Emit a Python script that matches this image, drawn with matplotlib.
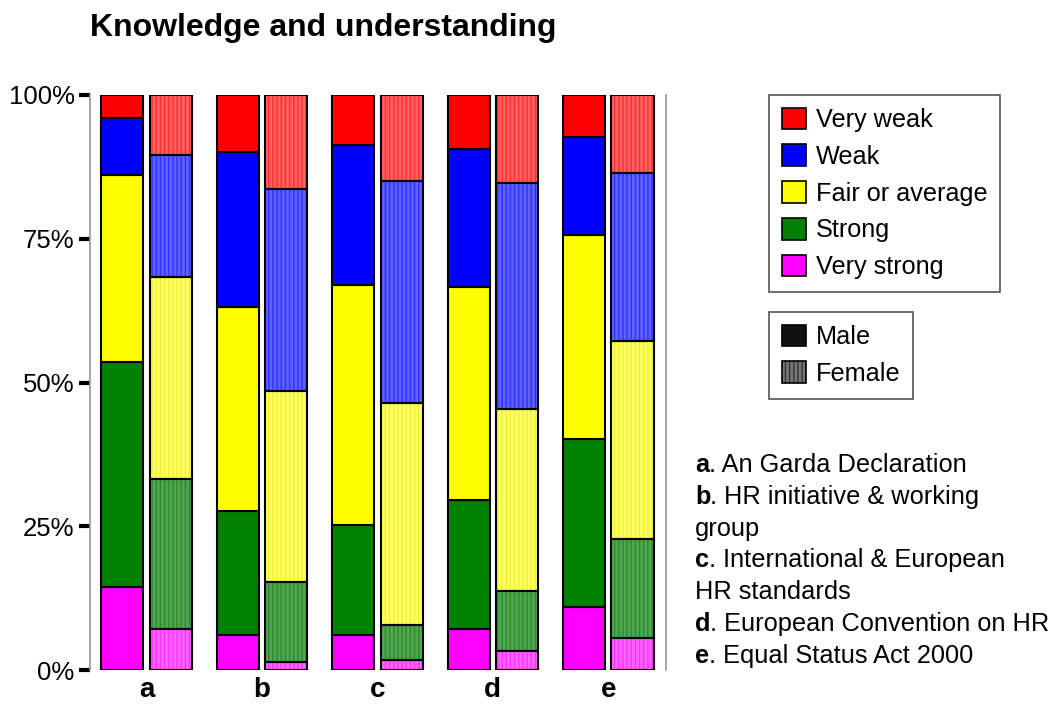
import numpy as np
import matplotlib
matplotlib.use("Agg")
import matplotlib.pyplot as plt
from matplotlib.patches import Patch

plt.rcParams["font.family"] = ["Liberation Sans", "DejaVu Sans"]
plt.rcParams["hatch.linewidth"] = 1.0

# data (percent), stacked bottom -> top
groups = ["a", "b", "c", "d", "e"]
levels = ["Very strong", "Strong", "Fair or average", "Weak", "Very weak"]
male = np.array([
    [14.4, 39.2, 32.5, 9.9, 4.0],
    [6.1, 21.6, 35.4, 27.0, 9.9],
    [6.1, 19.1, 41.8, 24.3, 8.7],
    [7.1, 22.5, 37.0, 24.0, 9.4],
    [11.0, 29.2, 35.5, 17.0, 7.3],
])
female = np.array([
    [7.1, 26.1, 35.1, 21.3, 10.4],
    [1.4, 13.9, 33.2, 35.2, 16.3],
    [1.7, 6.1, 38.6, 38.6, 15.0],
    [3.3, 10.4, 31.7, 39.3, 15.3],
    [5.6, 17.2, 34.4, 29.2, 13.6],
])
notes = [
    ("a", ". An Garda Declaration"),
    ("b", ". HR initiative & working"),
    ("", "group"),
    ("c", ". International & European"),
    ("", "HR standards"),
    ("d", ". European Convention on HR"),
    ("e", ". Equal Status Act 2000"),
]

male_colors = ["#ff00ff", "#008000", "#ffff00", "#0000ff", "#ff0000"]
female_face = ["#ff66ff", "#4fa84f", "#ffff66", "#6060ff", "#ff6060"]
female_hatch = ["#ff30ff", "#2e8a2e", "#f0f030", "#3030ff", "#ff3030"]

W, H, DPI = 1059, 704, 100
fig = plt.figure(figsize=(W / DPI, H / DPI), dpi=DPI)
ax = fig.add_axes([90 / W, 34 / H, 576 / W, 575 / H])

x = np.arange(len(groups))
bw = 0.365
off = 0.21
mb = np.cumsum(male, axis=1) - male
fb = np.cumsum(female, axis=1) - female
for k in range(len(levels)):
    ax.bar(x - off, male[:, k], bw, bottom=mb[:, k], color=male_colors[k],
           edgecolor="black", linewidth=1.5, zorder=2)
    ax.bar(x + off, female[:, k], bw, bottom=fb[:, k], color=female_face[k],
           edgecolor=female_hatch[k], hatch="||||", linewidth=0, zorder=2)
    ax.bar(x + off, female[:, k], bw, bottom=fb[:, k], fill=False,
           edgecolor="black", linewidth=1.5, zorder=3)

ax.set_xlim(-0.49, 4.5)
ax.set_ylim(0, 100)
ax.set_yticks([0, 25, 50, 75, 100], ["0%", "25%", "50%", "75%", "100%"])
ax.set_xticks(x, groups)
ax.tick_params(axis="y", length=8, width=3, color="black", pad=3, labelsize=18.5)
ax.tick_params(axis="x", length=0, pad=5, labelsize=20)
for t in ax.get_xticklabels():
    t.set_fontweight("bold")
for s in ["top", "bottom"]:
    ax.spines[s].set_visible(False)
for s in ["left", "right"]:
    ax.spines[s].set_color("#999999")
    ax.spines[s].set_linewidth(1.2)

fig.text(90 / W, 1 - 28 / H, "Knowledge and understanding", fontsize=23,
         fontweight="bold", va="center", ha="left")

# legends
lev_handles = [Patch(facecolor=c, edgecolor="black", linewidth=1.2)
               for c in male_colors[::-1]]
leg1 = fig.legend(lev_handles, levels[::-1], loc="upper left",
                  bbox_to_anchor=(769 / W, 1 - 95 / H), borderaxespad=0,
                  fontsize=18.2, handlelength=0.95, handleheight=0.95,
                  handletextpad=0.4, labelspacing=0.48, borderpad=0.5,
                  fancybox=False, edgecolor="#555555", framealpha=1)
leg1.get_frame().set_linewidth(1.2)

sex_handles = [
    Patch(facecolor="#111111", edgecolor="black", linewidth=1.2),
    (Patch(facecolor="#777777", edgecolor="#333333", hatch="||||", linewidth=0),
     Patch(fill=False, edgecolor="black", linewidth=1.2)),
]
leg2 = fig.legend(sex_handles, ["Male", "Female"], loc="upper left",
                  bbox_to_anchor=(769 / W, 1 - 312 / H), borderaxespad=0,
                  fontsize=18.2, handlelength=0.95, handleheight=0.95,
                  handletextpad=0.4, labelspacing=0.48, borderpad=0.5,
                  fancybox=False, edgecolor="#555555", framealpha=1)
leg2.get_frame().set_linewidth(1.2)

# notes on the right
y0 = 465
for i, (letter, rest) in enumerate(notes):
    yy = 1 - (y0 + i * 31.8) / H
    t = fig.text(695 / W, yy, letter, fontsize=18.3, fontweight="bold",
                 va="center", ha="left")
    if letter:
        ax.annotate(rest, xy=(1, 0), xycoords=t, va="bottom", ha="left",
                    fontsize=18.3, annotation_clip=False)
    else:
        fig.text(695 / W, yy, rest, fontsize=18.3, va="center", ha="left")

fig.savefig("out.png", dpi=DPI)
